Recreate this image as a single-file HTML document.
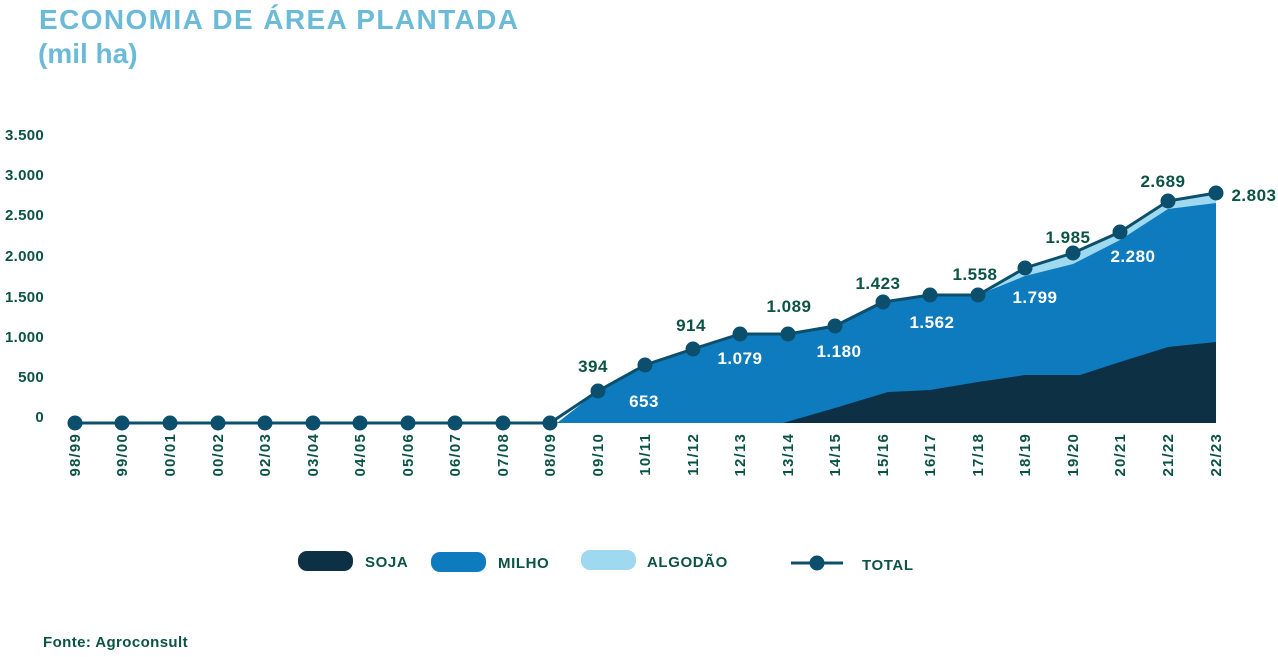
<!DOCTYPE html>
<html><head><meta charset="utf-8"><style>
body{margin:0;background:#fff;width:1278px;height:652px;overflow:hidden;font-family:"Liberation Sans",sans-serif}
</style></head><body>
<svg width="1278" height="652" xmlns="http://www.w3.org/2000/svg" font-family="Liberation Sans, sans-serif" font-weight="bold">
<text x="39" y="29" font-size="28" fill="#6bbad8" letter-spacing="1.4">ECONOMIA DE ÁREA PLANTADA</text>
<text x="38" y="63" font-size="28" fill="#6bbad8">(mil ha)</text>
<g font-size="15" fill="#0b5345" text-anchor="end" letter-spacing="0.3">
<text x="44" y="140">3.500</text><text x="44" y="180">3.000</text><text x="44" y="220">2.500</text><text x="44" y="261">2.000</text><text x="44" y="302">1.500</text><text x="44" y="342">1.000</text><text x="44" y="382">500</text><text x="44" y="422">0</text>
</g>
<polygon fill="#9ed9ef" points="557,423 598,391 645,365 693,349 740,334 788,334 835,326 883,302 930,295 978,295 1025,268 1073,253 1120,232 1168,201 1216,193 1216,423"/>
<polygon fill="#0f7bbf" points="557,423 598,391 645,365 693,349 740,334 788,334 835,326 883,302 930,295 978,295 1025,276 1073,264 1120,240 1168,209 1216,203 1216,423"/>
<polygon fill="#0d3045" points="783,423 835,408 888,392 930,390 978,382 1025,375 1080,375 1120,362 1168,347 1216,342 1216,423"/>
<polyline fill="none" stroke="#0b4f6c" stroke-width="3" points="75,423 122,423 170,423 218,423 265,423 313,423 360,423 408,423 455,423 503,423 550,423 598,391 645,365 693,349 740,334 788,334 835,326 883,302 930,295 978,295 1025,268 1073,253 1120,232 1168,201 1216,193"/>
<g fill="#0b4f6c">
<circle cx="75" cy="423" r="7.5"/><circle cx="122" cy="423" r="7.5"/><circle cx="170" cy="423" r="7.5"/><circle cx="218" cy="423" r="7.5"/><circle cx="265" cy="423" r="7.5"/><circle cx="313" cy="423" r="7.5"/><circle cx="360" cy="423" r="7.5"/><circle cx="408" cy="423" r="7.5"/><circle cx="455" cy="423" r="7.5"/><circle cx="503" cy="423" r="7.5"/><circle cx="550" cy="423" r="7.5"/><circle cx="598" cy="391" r="7.5"/><circle cx="645" cy="365" r="7.5"/><circle cx="693" cy="349" r="7.5"/><circle cx="740" cy="334" r="7.5"/><circle cx="788" cy="334" r="7.5"/><circle cx="835" cy="326" r="7.5"/><circle cx="883" cy="302" r="7.5"/><circle cx="930" cy="295" r="7.5"/><circle cx="978" cy="295" r="7.5"/><circle cx="1025" cy="268" r="7.5"/><circle cx="1073" cy="253" r="7.5"/><circle cx="1120" cy="232" r="7.5"/><circle cx="1168" cy="201" r="7.5"/><circle cx="1216" cy="193" r="7.5"/>
</g>
<g font-size="17" fill="#0b5345" text-anchor="middle" letter-spacing="0.5">
<text x="593" y="372">394</text><text x="691" y="331">914</text><text x="789" y="312">1.089</text><text x="878" y="289">1.423</text><text x="975" y="280">1.558</text><text x="1068" y="243">1.985</text><text x="1163" y="187">2.689</text><text x="1254" y="201">2.803</text>
</g>
<g font-size="17" fill="#fff" text-anchor="middle" letter-spacing="0.5">
<text x="644" y="407">653</text><text x="740" y="364">1.079</text><text x="839" y="357">1.180</text><text x="932" y="328">1.562</text><text x="1035" y="303">1.799</text><text x="1133" y="262">2.280</text>
</g>
<g font-size="15" fill="#0b5345" text-anchor="end" letter-spacing="1.2">
<text transform="translate(80,433) rotate(-90)">98/99</text>
<text transform="translate(127,433) rotate(-90)">99/00</text>
<text transform="translate(175,433) rotate(-90)">00/01</text>
<text transform="translate(223,433) rotate(-90)">00/02</text>
<text transform="translate(270,433) rotate(-90)">02/03</text>
<text transform="translate(318,433) rotate(-90)">03/04</text>
<text transform="translate(365,433) rotate(-90)">04/05</text>
<text transform="translate(413,433) rotate(-90)">05/06</text>
<text transform="translate(460,433) rotate(-90)">06/07</text>
<text transform="translate(508,433) rotate(-90)">07/08</text>
<text transform="translate(555,433) rotate(-90)">08/09</text>
<text transform="translate(603,433) rotate(-90)">09/10</text>
<text transform="translate(650,433) rotate(-90)">10/11</text>
<text transform="translate(698,433) rotate(-90)">11/12</text>
<text transform="translate(745,433) rotate(-90)">12/13</text>
<text transform="translate(793,433) rotate(-90)">13/14</text>
<text transform="translate(840,433) rotate(-90)">14/15</text>
<text transform="translate(888,433) rotate(-90)">15/16</text>
<text transform="translate(935,433) rotate(-90)">16/17</text>
<text transform="translate(983,433) rotate(-90)">17/18</text>
<text transform="translate(1030,433) rotate(-90)">18/19</text>
<text transform="translate(1078,433) rotate(-90)">19/20</text>
<text transform="translate(1125,433) rotate(-90)">20/21</text>
<text transform="translate(1173,433) rotate(-90)">21/22</text>
<text transform="translate(1221,433) rotate(-90)">22/23</text>
</g>
<rect x="298" y="551" width="55" height="20" rx="9" fill="#0d3045"/>
<rect x="431" y="552" width="55" height="20" rx="9" fill="#0f7bbf"/>
<rect x="581" y="550" width="55" height="20" rx="9" fill="#9ed9ef"/>
<line x1="791" y1="563" x2="843" y2="563" stroke="#0b4f6c" stroke-width="3"/>
<circle cx="817" cy="563" r="7.5" fill="#0b4f6c"/>
<g font-size="15" fill="#0b5345" letter-spacing="0.6">
<text x="365" y="567">SOJA</text><text x="498" y="568">MILHO</text><text x="647" y="567">ALGODÃO</text><text x="862" y="570">TOTAL</text>
</g>
<text x="43" y="647" font-size="15" fill="#0b5345" letter-spacing="0.4">Fonte: Agroconsult</text>
</svg>
</body></html>
